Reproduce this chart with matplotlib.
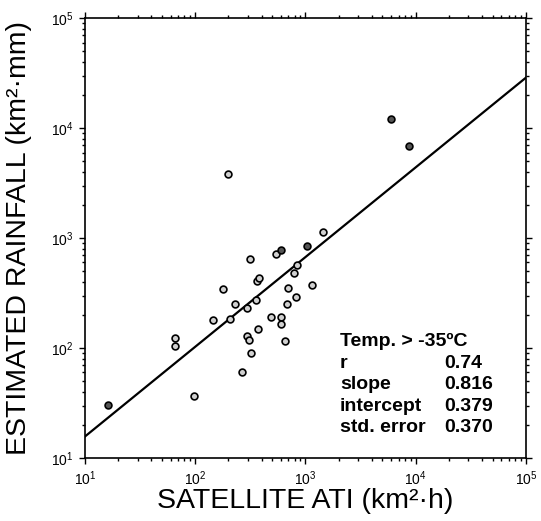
import numpy as np
import matplotlib
matplotlib.use("Agg")
import matplotlib.pyplot as plt

plt.rcParams['font.family'] = ['Liberation Sans', 'DejaVu Sans']

# satellite ATI (km2 h) vs estimated rainfall (km2 mm)
ati_open = [65.6, 65.6, 98, 146, 178, 197, 207, 228, 264, 295, 297, 310, 317,
            321, 357, 367, 380, 372, 484, 542, 602, 602, 649, 692, 687, 794,
            822, 845, 1150, 1445]
rain_open = [123, 103.5, 36.4, 179, 344, 3793, 185, 250, 60, 231, 130, 119, 649,
             90, 271, 403, 430, 149, 191, 711, 191, 166, 117, 348, 253, 481,
             289, 565, 376, 1127]
ati_dark = [16.3, 602, 1028, 5998, 8670]
rain_dark = [30.5, 773, 845, 12080, 6855]

# regression stats printed on the chart
stat_names = ["r", "slope", "intercept", "std. error"]
stat_values = ["0.74", "0.816", "0.379", "0.370"]
slope = 0.816
intercept = 0.379

fig = plt.figure(figsize=(5.41, 5.21), dpi=100)
ax = fig.add_axes([0.157, 0.121, 0.815, 0.844])

xl = np.array([1e1, 1e5])
ax.plot(xl, 10 ** (intercept + slope * np.log10(xl)), color="black", lw=1.6)

ax.scatter(ati_open, rain_open, s=24, facecolor="#d0d0d0", edgecolor="black",
           linewidth=1.2, zorder=3)
ax.scatter(ati_dark, rain_dark, s=24, facecolor="#555555", edgecolor="black",
           linewidth=1.2, zorder=3)

ax.set_xscale("log")
ax.set_yscale("log")
ax.set_xlim(1e1, 1e5)
ax.set_ylim(1e1, 1e5)

for s in ax.spines.values():
    s.set_linewidth(1.2)
ax.tick_params(which="both", direction="out", top=True, right=True,
               labeltop=False, labelright=False, labelsize=10, width=1)
ax.tick_params(which="major", length=4, pad=4)
ax.tick_params(which="minor", length=2.5)

ax.set_xlabel("SATELLITE ATI (km²·h)", fontsize=20.5, labelpad=0)
ax.set_ylabel("ESTIMATED RAINFALL (km²·mm)", fontsize=20.5, labelpad=14)

ty = 0.264
dy = 0.0489
ax.text(0.578, ty, "Temp. > -35ºC", transform=ax.transAxes, fontsize=14,
        fontweight="bold", va="center", ha="left")
for i, (n, v) in enumerate(zip(stat_names, stat_values)):
    y = ty - dy * (i + 1)
    ax.text(0.578, y, n, transform=ax.transAxes, fontsize=14,
            fontweight="bold", va="center", ha="left")
    ax.text(0.816, y, v, transform=ax.transAxes, fontsize=14,
            fontweight="bold", va="center", ha="left")

fig.savefig("out.png", dpi=100)
